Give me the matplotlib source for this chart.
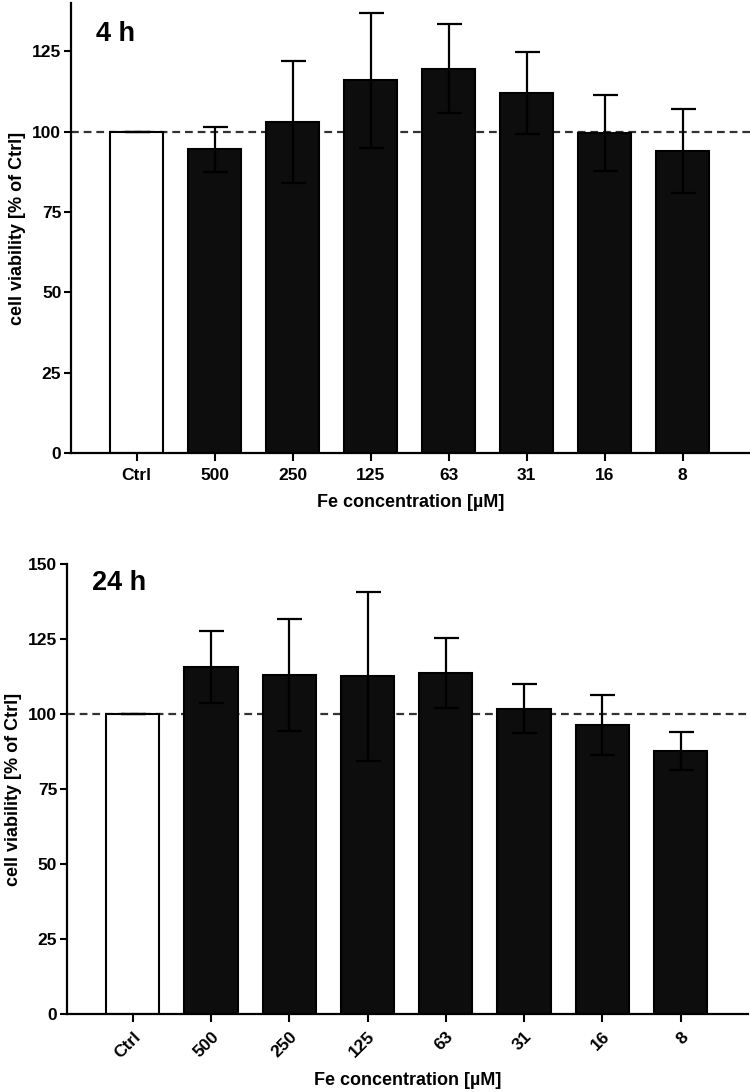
import numpy as np
import matplotlib.pyplot as plt

plt.rcParams['font.family'] = ['Liberation Sans', 'DejaVu Sans']
plt.rcParams['font.weight'] = 'bold'

groups = ['Ctrl', '500', '250', '125', '63', '31', '16', '8']

mean_4h = [100, 94.5, 103, 116, 119.5, 112, 99.5, 94]
sd_4h = [0, 7, 19, 21, 13.8, 12.8, 11.8, 13]

mean_24h = [100, 115.8, 113, 112.6, 113.7, 101.8, 96.3, 87.7]
sd_24h = [0, 12, 18.8, 28.2, 11.8, 8.2, 10, 6.3]


def draw_panel(ax, means, sds, title, title_y, ymax, yticks, rotate):
    x = np.arange(len(groups))
    colors = ['white'] + ['#0d0d0d'] * (len(groups) - 1)
    ax.axhline(100, color='#333333', linestyle=(0, (3.5, 2.2)), linewidth=1.6, zorder=1)
    ax.bar(x, means, width=0.68, color=colors, edgecolor='black', linewidth=1.5, zorder=2)
    ax.errorbar(x, means, yerr=sds, fmt='none', ecolor='black', elinewidth=1.6,
                capsize=9, capthick=1.6, zorder=3)
    ax.set_xlim(-0.84, 7.86)
    ax.set_ylim(0, ymax)
    ax.set_yticks(yticks)
    ax.set_xticks(x)
    if rotate:
        ax.set_xticklabels(groups, rotation=45, ha='right', rotation_mode='anchor')
    else:
        ax.set_xticklabels(groups)
    for s in ['top', 'right']:
        ax.spines[s].set_visible(False)
    for s in ['left', 'bottom']:
        ax.spines[s].set_linewidth(1.6)
    ax.tick_params(width=1.5, length=5, labelsize=12.5, pad=2)
    ax.tick_params(axis='x', length=6, pad=5)
    ax.set_ylabel('cell viability [% of Ctrl]', fontsize=13, fontweight='bold', labelpad=4)
    ax.set_xlabel('Fe concentration [\u00b5M]', fontsize=13, fontweight='bold', labelpad=8)
    ax.text(0.037, title_y, title, transform=ax.transAxes, fontsize=19.5, fontweight='bold',
            va='center', ha='left')


fig = plt.figure(figsize=(7.5, 10.92), dpi=100)
ax1 = fig.add_axes([0.0947, 0.5852, 0.905, 0.4121])
ax2 = fig.add_axes([0.0893, 0.0714, 0.908, 0.4121])

draw_panel(ax1, mean_4h, sd_4h, '4 h', 0.932, 140, [0, 25, 50, 75, 100, 125], False)
draw_panel(ax2, mean_24h, sd_24h, '24 h', 0.957, 150, [0, 25, 50, 75, 100, 125, 150], True)

fig.savefig('out.png', dpi=100)
